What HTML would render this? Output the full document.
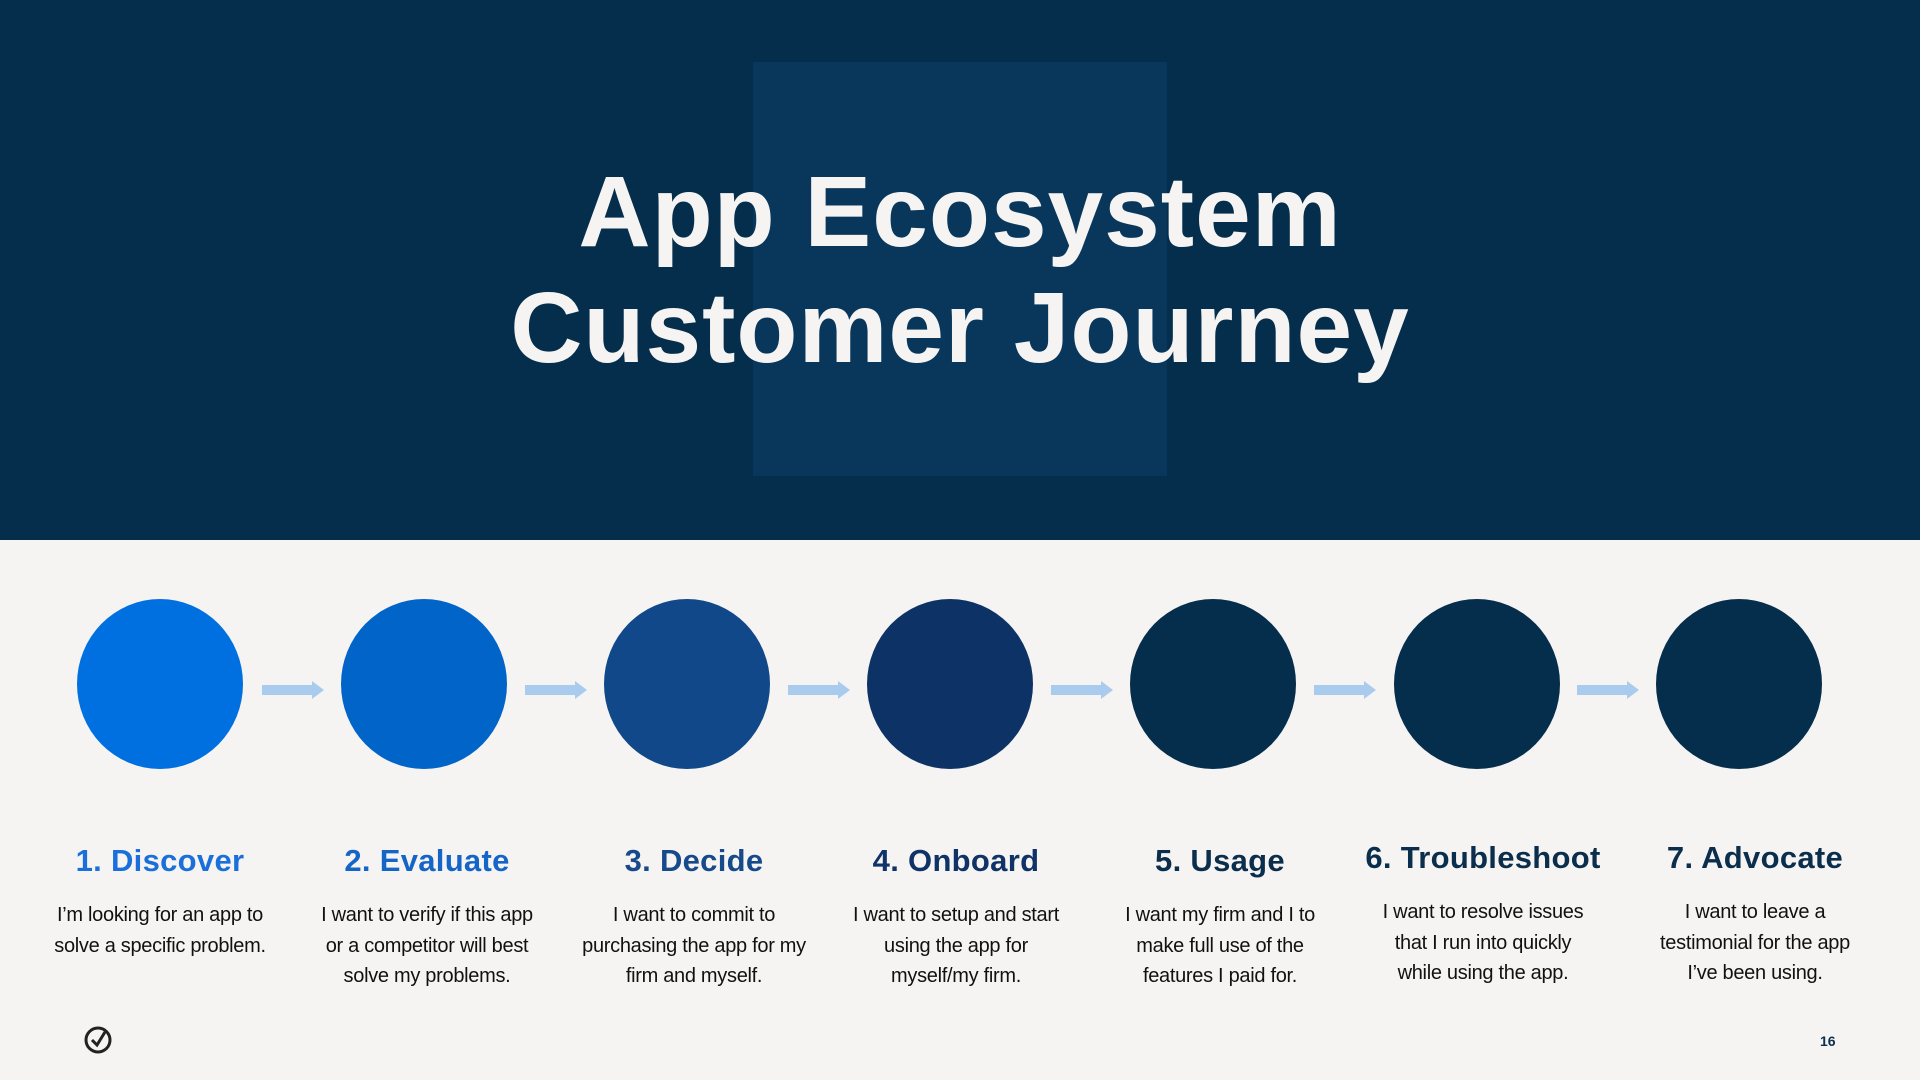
<!DOCTYPE html>
<html><head><meta charset="utf-8"><style>
body{margin:0;width:1920px;height:1080px;background:#f6f4f2;position:relative;overflow:hidden;font-family:"Liberation Sans",sans-serif}
.hdr{position:absolute;left:0;top:0;width:1920px;height:540px;background:#052e4c}
.inner{position:absolute;left:753px;top:62px;width:414px;height:414px;background:#09375b}
.t{position:absolute;left:0;width:1920px;text-align:center;color:#f6f4f2;font-weight:bold;font-size:100px;line-height:100px;letter-spacing:1px}
.c{position:absolute;width:166px;height:170px;border-radius:50%;top:599px}
.a{position:absolute;top:681px;width:62px;height:18px}
.h{position:absolute;width:300px;text-align:center;font-weight:bold;font-size:31px;line-height:34px;letter-spacing:0.3px}
.b{position:absolute;width:300px;text-align:center;font-size:20px;line-height:30.6px;color:#111;white-space:nowrap;letter-spacing:-0.3px}
</style></head><body>
<div class="hdr"><div class="inner"></div></div>
<div class="t" style="top:162px">App Ecosystem</div>
<div class="t" style="top:278px">Customer Journey</div>

<div class="c" style="left:77px;background:#0070e0"></div>
<div class="c" style="left:341px;background:#0064c8"></div>
<div class="c" style="left:604px;background:#10488a"></div>
<div class="c" style="left:867px;background:#0d3366"></div>
<div class="c" style="left:1130px;background:#052e4c"></div>
<div class="c" style="left:1394px;background:#052e4c"></div>
<div class="c" style="left:1656px;background:#052e4c"></div>

<svg class="a" style="left:262px" viewBox="0 0 62 18"><rect x="0" y="4" width="50" height="10" fill="#a9cbee"/><polygon points="50,0 62,9 50,18" fill="#a9cbee"/></svg>
<svg class="a" style="left:525px" viewBox="0 0 62 18"><rect x="0" y="4" width="50" height="10" fill="#a9cbee"/><polygon points="50,0 62,9 50,18" fill="#a9cbee"/></svg>
<svg class="a" style="left:788px" viewBox="0 0 62 18"><rect x="0" y="4" width="50" height="10" fill="#a9cbee"/><polygon points="50,0 62,9 50,18" fill="#a9cbee"/></svg>
<svg class="a" style="left:1051px" viewBox="0 0 62 18"><rect x="0" y="4" width="50" height="10" fill="#a9cbee"/><polygon points="50,0 62,9 50,18" fill="#a9cbee"/></svg>
<svg class="a" style="left:1314px" viewBox="0 0 62 18"><rect x="0" y="4" width="50" height="10" fill="#a9cbee"/><polygon points="50,0 62,9 50,18" fill="#a9cbee"/></svg>
<svg class="a" style="left:1577px" viewBox="0 0 62 18"><rect x="0" y="4" width="50" height="10" fill="#a9cbee"/><polygon points="50,0 62,9 50,18" fill="#a9cbee"/></svg>

<div class="h" style="left:10px;top:844px;color:#1a6fdb">1. Discover</div>
<div class="h" style="left:277px;top:844px;color:#1565c8">2. Evaluate</div>
<div class="h" style="left:544px;top:844px;color:#174a8a">3. Decide</div>
<div class="h" style="left:806px;top:844px;color:#0f3366">4. Onboard</div>
<div class="h" style="left:1070px;top:844px;color:#0a2e4c">5. Usage</div>
<div class="h" style="left:1333px;top:841px;color:#0a2e4c">6. Troubleshoot</div>
<div class="h" style="left:1605px;top:841px;color:#0a2e4c">7. Advocate</div>

<div class="b" style="left:10px;top:900px">I’m looking for an app to<br>solve a specific problem.</div>
<div class="b" style="left:277px;top:900px">I want to verify if this app<br>or a competitor will best<br>solve my problems.</div>
<div class="b" style="left:544px;top:900px">I want to commit to<br>purchasing the app for my<br>firm and myself.</div>
<div class="b" style="left:806px;top:900px">I want to setup and start<br>using the app for<br>myself/my firm.</div>
<div class="b" style="left:1070px;top:900px">I want my firm and I to<br>make full use of the<br>features I paid for.</div>
<div class="b" style="left:1333px;top:897px">I want to resolve issues<br>that I run into quickly<br>while using the app.</div>
<div class="b" style="left:1605px;top:897px">I want to leave a<br>testimonial for the app<br>I’ve been using.</div>

<svg style="position:absolute;left:83px;top:1025px" width="30" height="30" viewBox="0 0 30 30"><circle cx="15" cy="15" r="12" fill="none" stroke="#222" stroke-width="3"/><polyline points="9,15 14,20 22,7" fill="none" stroke="#222" stroke-width="3"/></svg>
<div style="position:absolute;left:1820px;top:1033px;font-size:14px;color:#0a2e4c;font-weight:bold">16</div>
</body></html>
